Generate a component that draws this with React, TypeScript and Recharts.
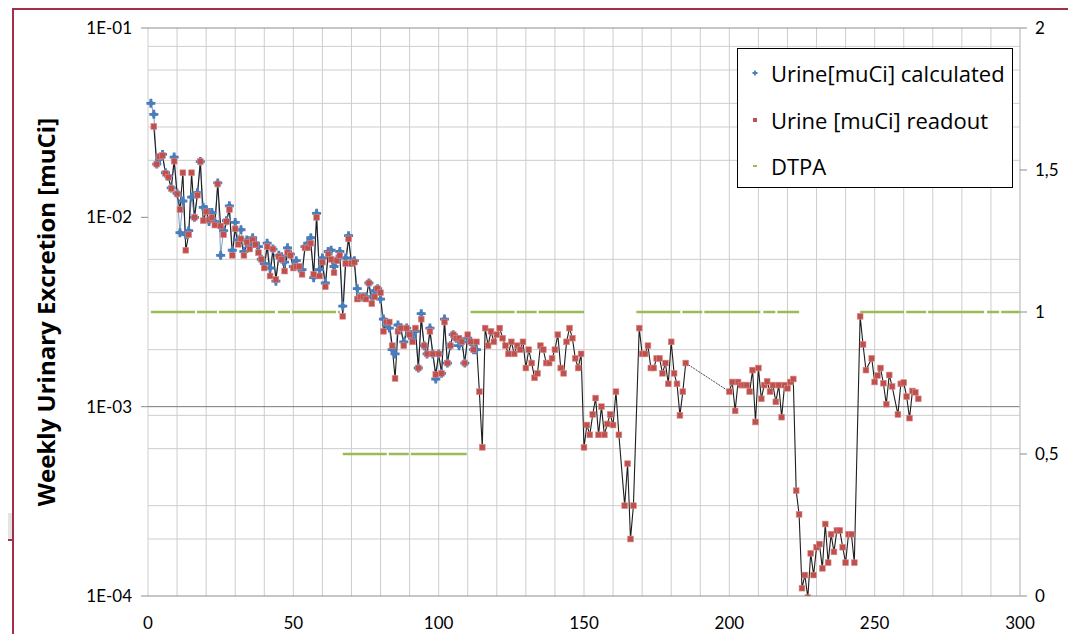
import React from 'react';
import { LineChart, Line, XAxis, YAxis, CartesianGrid, ReferenceLine, Legend } from 'recharts';

// [week, muCi] — activity computed from the sample volume
const calculated: [number, number][] = [
  [1, 0.04], [2, 0.035], [3, 0.0191], [4, 0.0203], [5, 0.0215], [6, 0.0172], [7, 0.0165], [8, 0.0143],
  [9, 0.0208], [10, 0.0134], [11, 0.0083], [12, 0.0122], [13, 0.0081], [14, 0.0085], [15, 0.0128],
  [16, 0.01], [17, 0.0135], [18, 0.0197], [19, 0.0113], [20, 0.011], [21, 0.0095], [22, 0.0106],
  [23, 0.0095], [24, 0.0152], [25, 0.0063], [26, 0.0085], [27, 0.0096], [28, 0.0115], [29, 0.0067],
  [30, 0.0094], [31, 0.0076], [32, 0.0086], [33, 0.0066], [34, 0.0076], [35, 0.007], [36, 0.0078],
  [37, 0.0073], [38, 0.007], [39, 0.006], [40, 0.0057], [41, 0.0073], [42, 0.0054], [43, 0.0068],
  [44, 0.0046], [45, 0.0063], [46, 0.0062], [47, 0.0058], [48, 0.0069], [49, 0.0064], [50, 0.0055],
  [51, 0.0059], [52, 0.0054], [53, 0.0053], [54, 0.007], [55, 0.0073], [56, 0.0078], [57, 0.0048],
  [58, 0.0105], [59, 0.0053], [60, 0.0061], [61, 0.0045], [62, 0.0066], [63, 0.0067], [64, 0.0055],
  [65, 0.006], [66, 0.0066], [67, 0.0034], [68, 0.0061], [69, 0.008], [70, 0.0058], [71, 0.0059],
  [72, 0.0042], [73, 0.0038], [74, 0.0038], [75, 0.0038], [76, 0.0045], [77, 0.0038], [78, 0.0041],
  [79, 0.0042], [80, 0.0037], [81, 0.0029], [82, 0.0027], [83, 0.0026], [84, 0.002], [85, 0.0019],
  [86, 0.0027], [87, 0.0026], [88, 0.0022], [89, 0.0026], [90, 0.0024], [91, 0.0023], [92, 0.0025],
  [93, 0.0016], [94, 0.0031], [95, 0.0021], [96, 0.0019], [97, 0.0026], [98, 0.0019], [99, 0.0014],
  [100, 0.0019], [101, 0.0015], [102, 0.0029], [103, 0.0017], [104, 0.0021], [105, 0.0024],
  [106, 0.0023], [107, 0.0021], [108, 0.0022], [109, 0.0017], [110, 0.0023], [111, 0.0022],
  [112, 0.002], [113, 0.002],
];

// [week, muCi] — counter readout
const readout: [number, number][] = [
  [2, 0.0302], [3, 0.0191], [4, 0.0209], [5, 0.0212], [6, 0.0171], [7, 0.0163], [8, 0.0142],
  [9, 0.0198], [10, 0.0133], [11, 0.011], [12, 0.0172], [13, 0.0067], [14, 0.0081], [15, 0.0172],
  [16, 0.01], [17, 0.0131], [18, 0.0197], [19, 0.0096], [20, 0.0107], [21, 0.0097], [22, 0.01],
  [23, 0.0091], [24, 0.015], [25, 0.009], [26, 0.0081], [27, 0.0095], [28, 0.011], [29, 0.0063],
  [30, 0.0087], [31, 0.0072], [32, 0.0077], [33, 0.0063], [34, 0.0074], [35, 0.0068], [36, 0.0076],
  [37, 0.0072], [38, 0.0065], [39, 0.006], [40, 0.0054], [41, 0.007], [42, 0.0049], [43, 0.0068],
  [44, 0.0047], [45, 0.0062], [46, 0.006], [47, 0.0052], [48, 0.0065], [49, 0.0063], [50, 0.0054],
  [51, 0.0055], [52, 0.0055], [53, 0.005], [54, 0.0069], [55, 0.0069], [56, 0.0073], [57, 0.005],
  [58, 0.01], [59, 0.0049], [60, 0.0058], [61, 0.0043], [62, 0.0064], [63, 0.006], [64, 0.0051],
  [65, 0.0059], [66, 0.0063], [67, 0.003], [68, 0.0057], [69, 0.0077], [70, 0.0057], [71, 0.0058],
  [72, 0.0037], [73, 0.0038], [74, 0.0038], [75, 0.0037], [76, 0.0045], [77, 0.0035], [78, 0.0038],
  [79, 0.0042], [80, 0.004], [81, 0.0025], [82, 0.0028], [83, 0.0028], [84, 0.0021], [85, 0.00141],
  [86, 0.0025], [87, 0.0026], [88, 0.0021], [89, 0.0026], [90, 0.0024], [91, 0.0022], [92, 0.0026],
  [93, 0.0016], [94, 0.0029], [95, 0.0021], [96, 0.0019], [97, 0.0025], [98, 0.0019], [99, 0.00148],
  [100, 0.0019], [101, 0.0015], [102, 0.0028], [103, 0.0017], [104, 0.0021], [105, 0.0024],
  [106, 0.0023], [107, 0.0023], [108, 0.0022], [109, 0.0017], [110, 0.0024], [111, 0.0022],
  [112, 0.002], [113, 0.0022], [114, 0.0012], [115, 0.00061], [116, 0.0026], [117, 0.0021],
  [118, 0.0025], [119, 0.0022], [120, 0.0024], [121, 0.0026], [122, 0.0023], [123, 0.0021],
  [124, 0.0019], [125, 0.0022], [126, 0.0019], [127, 0.0021], [128, 0.002], [129, 0.0022],
  [130, 0.0016], [131, 0.002], [132, 0.0017], [133, 0.00142], [134, 0.0015], [135, 0.0021],
  [136, 0.002], [137, 0.0017], [138, 0.0017], [139, 0.0018], [140, 0.002], [141, 0.0024],
  [142, 0.0016], [143, 0.0015], [144, 0.0022], [145, 0.0026], [146, 0.0023], [147, 0.0018],
  [148, 0.0016], [149, 0.0019], [150, 0.00061], [151, 0.0008], [152, 0.00071], [153, 0.00091],
  [154, 0.00111], [155, 0.00071], [156, 0.001], [157, 0.00071], [158, 0.00081], [159, 0.00091],
  [160, 0.0008], [161, 0.0012], [162, 0.00071], [164, 0.0003], [165, 0.0005], [166, 0.0002],
  [167, 0.0003], [169, 0.0026], [170, 0.0019], [171, 0.0019], [172, 0.0021], [173, 0.0016],
  [174, 0.0016], [175, 0.0018], [176, 0.0018], [177, 0.0015], [178, 0.0017], [179, 0.00132],
  [180, 0.0022], [181, 0.0015], [182, 0.00132], [183, 0.0009], [184, 0.0012], [185, 0.0017],
  [200, 0.0012], [201, 0.00135], [202, 0.00095], [203, 0.00135], [204, 0.0013], [205, 0.0013],
  [206, 0.0013], [207, 0.0012], [208, 0.00156], [209, 0.00083], [210, 0.0016], [211, 0.0011],
  [212, 0.0013], [213, 0.00136], [214, 0.0012], [215, 0.0013], [216, 0.00106], [217, 0.0013],
  [218, 0.00088], [219, 0.0013], [220, 0.00125], [221, 0.00135], [222, 0.0014], [223, 0.00036],
  [224, 0.00027], [225, 0.00011], [226, 0.000129], [227, 0.000098], [228, 0.000168], [229, 0.000129],
  [230, 0.000181], [231, 0.000188], [232, 0.00014], [233, 0.00024], [234, 0.00015], [235, 0.000212],
  [236, 0.000171], [237, 0.000222], [238, 0.000222], [239, 0.000181], [240, 0.00015], [241, 0.000212],
  [242, 0.000212], [243, 0.00015], [245, 0.003], [246, 0.00213], [247, 0.00156], [249, 0.0018],
  [250, 0.00135], [251, 0.00146], [252, 0.0016], [253, 0.00133], [254, 0.00103], [255, 0.00147],
  [256, 0.00128], [258, 0.00091], [259, 0.00132], [260, 0.00134], [261, 0.00113], [262, 0.00087],
  [263, 0.00121], [264, 0.00119], [265, 0.0011],
];

// DTPA treatment periods (right axis)
const dtpaStart = [1, 67, 111, 168, 245];
const dtpaEnd = [66, 110, 150, 224, 300];
const dtpaLevel = [1, 0.5, 1, 1, 1];

const weekTicks = [0, 50, 100, 150, 200, 250, 300];
const leftTicks = [0.0001, 0.001, 0.01, 0.1];
const rightTicks = [0, 0.5, 1, 1.5, 2];
const gridWeeks = [0, 10, 20, 30, 40, 50, 60, 70, 80, 90, 100, 110, 120, 130, 140, 150, 160, 170, 180, 190,
  200, 210, 220, 230, 240, 250, 260, 270, 280, 290, 300];
const gridLevels = [0.08, 0.06, 0.05, 0.04, 0.03, 0.02, 0.007, 0.006, 0.004, 0.002, 0.0009, 0.0007, 0.0006,
  0.0003, 0.0002];

const BLUE = '#4a7ebb';
const RED = '#c0504d';
const GREEN = '#9bbb59';
const FONT = 'Lato, "Open Sans", sans-serif';
const TEXT_FONT = '"Open Sans", Lato, sans-serif';

const calcData = calculated.map(([week, v]) => ({ week, v }));

// the counter line breaks where weeks are missing; that stretch is bridged by a thin dotted link
const gapAt = readout.findIndex((p, i) => i > 0 && p[0] - readout[i - 1][0] > 5);
const readoutData = readout.flatMap(([week, v], i) =>
  i === gapAt ? [{ week: week - 1, v: null }, { week, v }] : [{ week, v }]
);
const bridgeData = [readout[gapAt - 1], readout[gapAt]].map(([week, v]) => ({ week, v }));

const dtpaData = dtpaStart.flatMap((s, i) => [
  { week: s, v: dtpaLevel[i] },
  { week: dtpaEnd[i], v: dtpaLevel[i] },
  { week: dtpaEnd[i], v: null },
]);

const expLabel = (v: number) => `1E-${String(Math.round(-Math.log10(v))).padStart(2, '0')}`;
const commaLabel = (v: number) => String(v).replace('.', ',');

function PlusDot(props: any) {
  const { cx, cy, index, payload } = props;
  if (cx == null || cy == null || payload?.v == null) return <g key={`c${index}`} />;
  return (
    <g key={`c${index}`}>
      <path d={`M${cx - 4.5},${cy}H${cx + 4.5}M${cx},${cy - 4.5}V${cy + 4.5}`} stroke={BLUE} strokeWidth={2.8} />
      <path d={`M${cx},${cy - 3.6}L${cx + 3.6},${cy}L${cx},${cy + 3.6}L${cx - 3.6},${cy}Z`} fill={BLUE} />
    </g>
  );
}

function SquareDot(props: any) {
  const { cx, cy, index, payload } = props;
  if (cx == null || cy == null || payload?.v == null) return <g key={`r${index}`} />;
  return <rect key={`r${index}`} x={cx - 2.9} y={cy - 2.9} width={5.8} height={5.8} fill={RED} stroke="#d98c8a" strokeWidth={0.6} />;
}

const legendRows = [
  { label: 'Urine[muCi] calculated', mark: 'plus' },
  { label: 'Urine [muCi] readout', mark: 'square' },
  { label: 'DTPA', mark: 'dash' },
];

function LegendBox() {
  return (
    <div style={{ width: 276, height: 140, border: '1px solid #000', background: '#fff', boxSizing: 'border-box', paddingTop: 1 }}>
      {legendRows.map((r) => (
        <div key={r.label} style={{ height: 46.5, display: 'flex', alignItems: 'center', fontFamily: TEXT_FONT, fontSize: 22, color: '#000', whiteSpace: 'nowrap' }}>
          <svg width={33} height={12} style={{ flex: 'none' }}>
            {r.mark === 'plus' && <path d="M17,3.5V8.5M14.5,6H19.5" stroke={BLUE} strokeWidth={1.8} />}
            {r.mark === 'square' && <rect x={15} y={4} width={4} height={4} fill={RED} />}
            {r.mark === 'dash' && <rect x={15} y={5} width={4} height={2} fill={GREEN} />}
          </svg>
          <span>{r.label}</span>
        </div>
      ))}
    </div>
  );
}

export default function App() {
  return (
    <div style={{ position: 'relative', width: 1076, height: 642, margin: -8, overflow: 'hidden', background: '#fff' }}>
      <LineChart width={1076} height={642} margin={{ top: 28, right: 6, bottom: 16, left: 88 }}>
        <CartesianGrid
          yAxisId="left"
          horizontalValues={gridLevels}
          verticalValues={gridWeeks}
          stroke="#cdcdcd"
          horizontal={{ stroke: '#a9a9a9' } as any}
        />
        <XAxis
          type="number"
          dataKey="week"
          domain={[0, 300]}
          ticks={weekTicks}
          tickLine={false}
          tickSize={6}
          tickMargin={15}
          height={30}
          axisLine={{ stroke: '#8c8c8c' }}
          tick={{ fontSize: 17, fill: '#000', fontFamily: FONT }}
        />
        <YAxis
          yAxisId="left"
          scale="log"
          domain={[0.0001, 0.1]}
          allowDataOverflow
          ticks={leftTicks}
          tickFormatter={expLabel}
          width={60}
          tickSize={7}
          tickMargin={9}
          axisLine={false}
          tickLine={{ stroke: '#8c8c8c' }}
          tick={{ fontSize: 17, fill: '#000', fontFamily: FONT }}
        />
        <YAxis
          yAxisId="right"
          orientation="right"
          domain={[0, 2]}
          ticks={rightTicks}
          tickFormatter={commaLabel}
          width={50}
          tickSize={7}
          tickMargin={8}
          axisLine={{ stroke: '#c8c8c8' }}
          tickLine={{ stroke: '#8c8c8c' }}
          tick={{ fontSize: 17, fill: '#000', fontFamily: FONT }}
        />
        <ReferenceLine yAxisId="left" y={0.1} stroke="#8c8c8c" />
        <ReferenceLine yAxisId="left" y={0.001} stroke="#7a7a7a" />
        <Legend
          layout="vertical"
          align="center"
          verticalAlign="middle"
          wrapperStyle={{ left: 737, top: 48, width: 276 }}
          content={() => <LegendBox />}
        />
        <Line
          yAxisId="right"
          data={dtpaData}
          dataKey="v"
          name="DTPA"
          stroke={GREEN}
          strokeWidth={2.5}
          strokeDasharray="44 2 20 2 56 3 12 2"
          dot={false}
          isAnimationActive={false}
        />
        <Line
          yAxisId="left"
          data={calcData}
          dataKey="v"
          name="Urine[muCi] calculated"
          stroke="#7f9cc6"
          strokeWidth={1}
          dot={PlusDot}
          activeDot={false}
          isAnimationActive={false}
        />
        <Line
          yAxisId="left"
          data={readoutData}
          dataKey="v"
          name="Urine [muCi] readout"
          stroke="#1e1e1e"
          strokeWidth={1.1}
          dot={SquareDot}
          activeDot={false}
          isAnimationActive={false}
        />
        <Line
          yAxisId="left"
          data={bridgeData}
          dataKey="v"
          legendType="none"
          stroke="#333"
          strokeWidth={0.9}
          strokeDasharray="2 1"
          dot={false}
          activeDot={false}
          isAnimationActive={false}
        />
      </LineChart>
      <div
        style={{
          position: 'absolute',
          left: 45,
          top: 312,
          transform: 'translate(-50%, -50%) rotate(-90deg)',
          whiteSpace: 'nowrap',
          fontFamily: TEXT_FONT,
          fontWeight: 700,
          fontSize: 24,
          color: '#000',
        }}
      >
        Weekly Urinary Excretion [muCi]
      </div>
      <div style={{ position: 'absolute', left: 668, top: 0, width: 2, height: 9, background: '#6d6d6d' }} />
      <div style={{ position: 'absolute', left: 0, top: 513, width: 12, height: 26, background: '#e4e4e4', borderBottom: '2px solid #a3304b' }} />
      <div
        style={{
          position: 'absolute',
          left: 12,
          top: 8,
          width: 1060,
          height: 634,
          border: '2px solid #a3304b',
          boxSizing: 'border-box',
          pointerEvents: 'none',
        }}
      />
    </div>
  );
}
